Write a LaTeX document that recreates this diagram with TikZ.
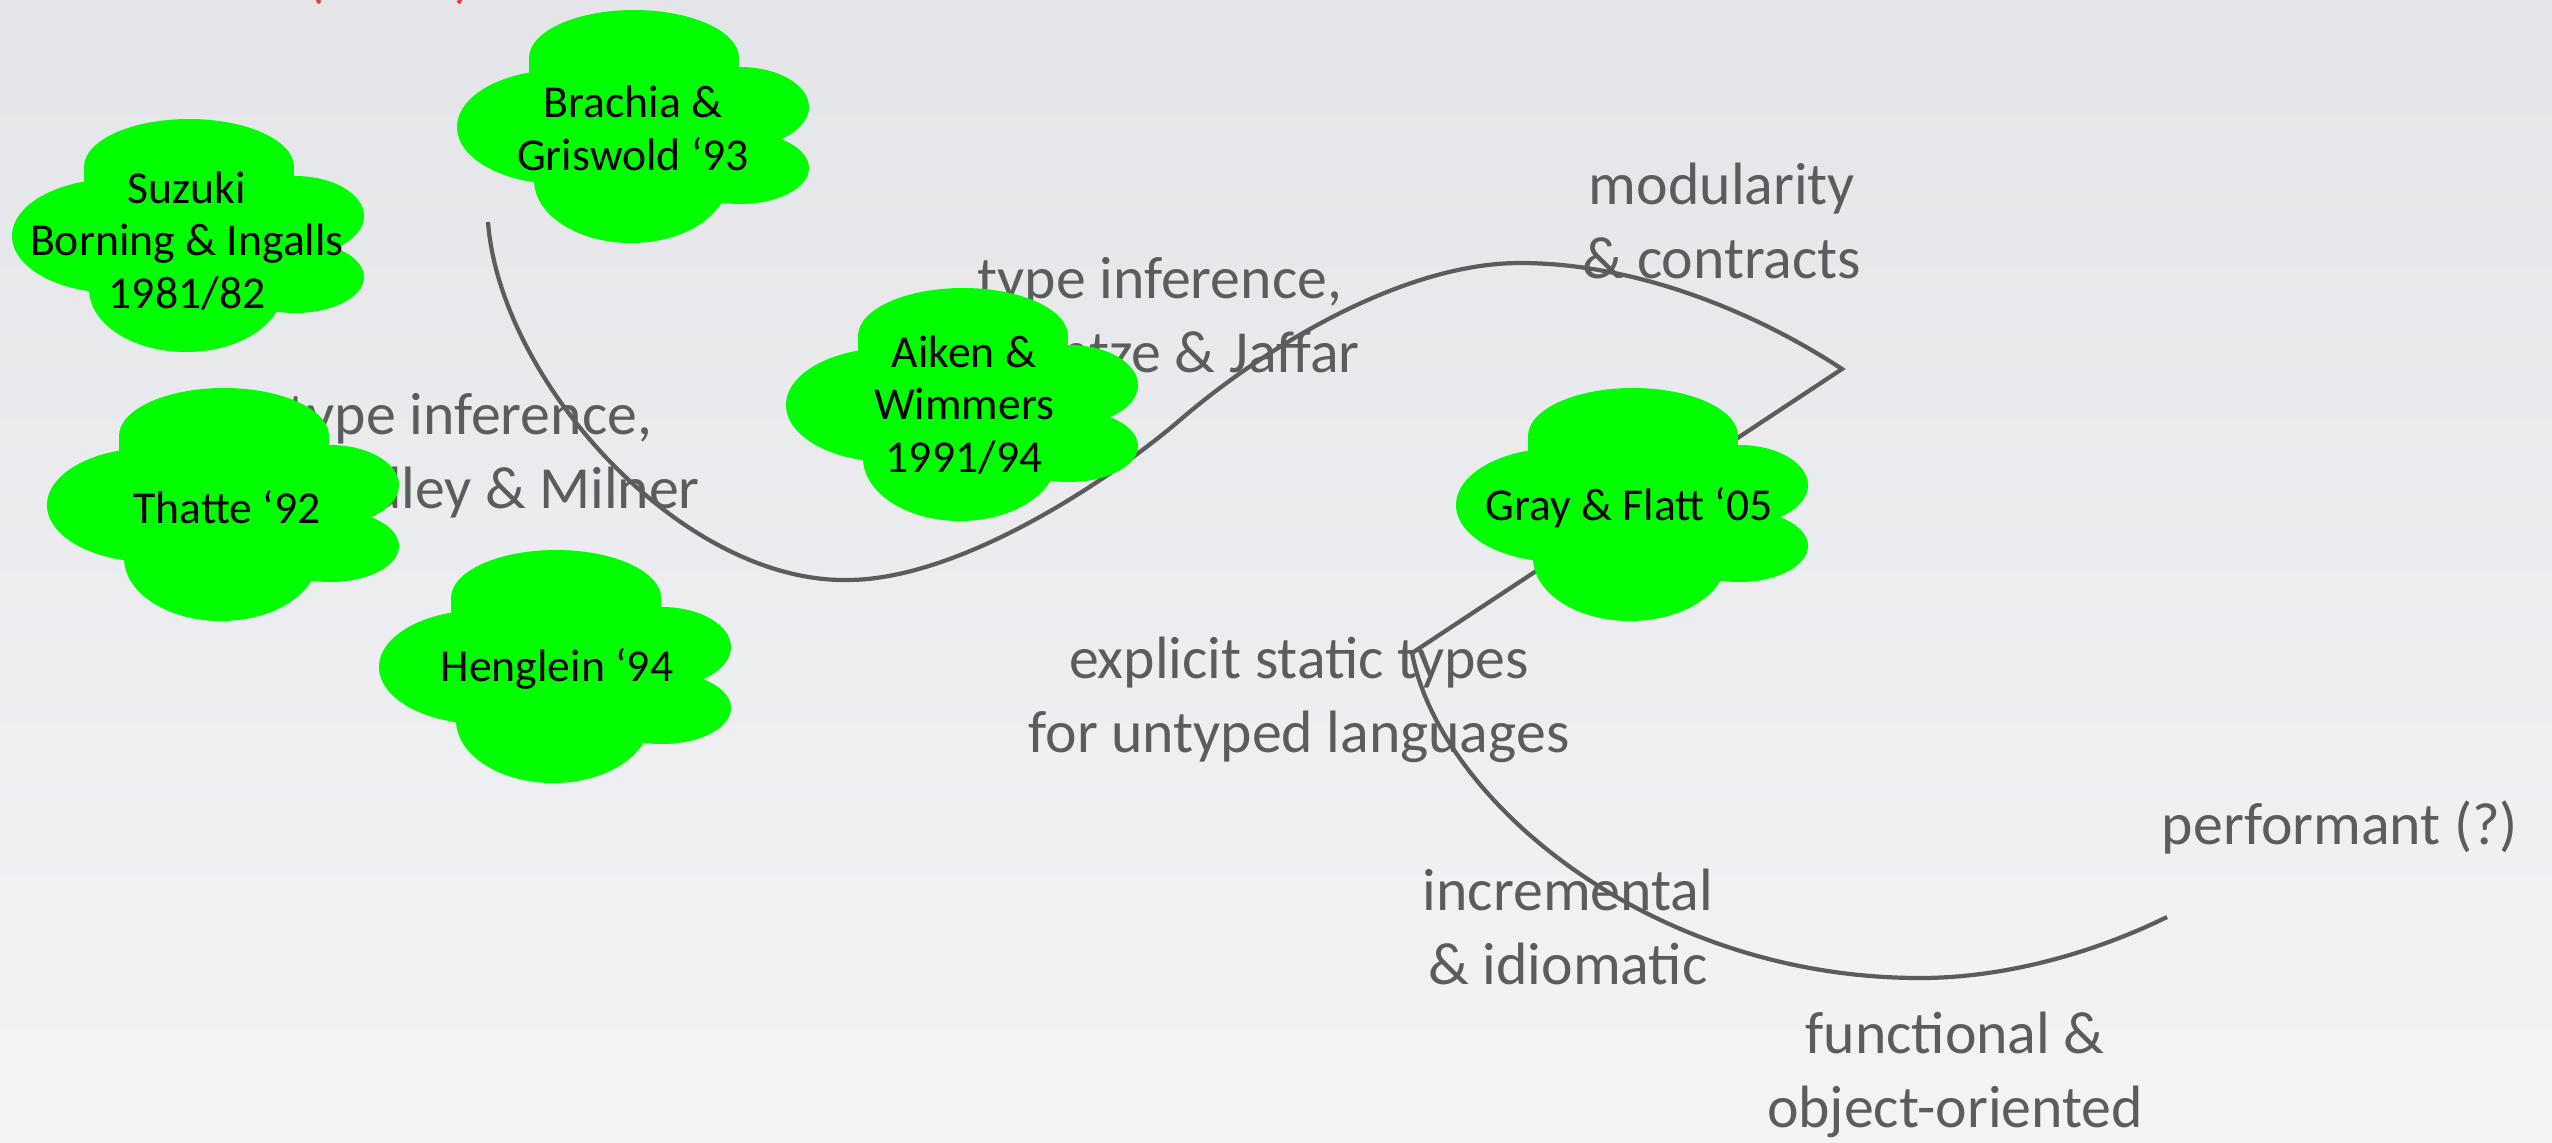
\documentclass[tikz,border=0pt]{standalone}
\usepackage{fontspec}
\setmainfont{Carlito}
\definecolor{slidetop}{RGB}{227,229,232}
\definecolor{slidebottom}{RGB}{243,244,246}
\definecolor{inkgray}{RGB}{92,92,92}
\definecolor{puffgreen}{RGB}{0,255,0}
\definecolor{notered}{RGB}{228,60,60}
\begin{document}
\begin{tikzpicture}[
   x=0.01cm,y=-0.01cm,
   lbl/.style={text=inkgray,align=center,inner sep=0pt,font=\fontsize{17}{21}\selectfont},
   puff/.style={align=center,inner sep=0pt,font=\fontsize{13}{15}\selectfont},
   track/.style={draw=inkgray,line width=1.2pt,line join=miter},
   blob/.pic={
     \fill[puffgreen] (-105,-68) rectangle (105,-20);
     \fill[puffgreen] (0,-68) ellipse [x radius=105,y radius=48]
       (-74,1) ellipse [x radius=103,y radius=57]
       (106,-19) ellipse [x radius=69,y radius=40]
       (106,42) ellipse [x radius=69,y radius=36]
       (-3,54) ellipse [x radius=97,y radius=63]
       (0,4) ellipse [x radius=120,y radius=80];
   }
 ]
  \useasboundingbox (0,0) rectangle (2552,1142);
  \shade[top color=slidetop,bottom color=slidebottom] (0,0) rectangle (2552,1142);
  \begin{scope}
    \clip (0,0) rectangle (2552,1142);
    \node[text=notered,anchor=base,font=\fontsize{17}{21}\selectfont] (draft) at (390,-4) {(\hspace{1.3cm})};
  \end{scope}

  \node[lbl] (modular) at (1722,221) {modularity\\\& contracts};
  \node[lbl,align=left,anchor=west] (heintze) at (977,315) {type inference,\\Heintze \& Jaffar};
  \node[lbl,align=left,anchor=west] (hindley) at (287,456) {type inference,\\Hindley \& Milner};
  \node[lbl] (explicit) at (1299,700) {explicit static types\\for untyped languages};
  \node[lbl] (incr) at (1568,927) {incremental\\\& idiomatic};
  \node[lbl,anchor=base] (perf) at (2340,844) {performant (?)};
  \node[lbl] (funct) at (1955,1075) {functional \&\\object-oriented};

  \draw[track] (488,222) .. controls (500,380) and (680,582) .. (847,580)
    .. controls (960,580) and (1110,480) .. (1180,420)
    .. controls (1260,351) and (1400,263) .. (1520,263)
    .. controls (1640,263) and (1760,315) .. (1842,369)
    -- (1412,653)
    .. controls (1440,800) and (1650,978) .. (1920,978)
    .. controls (2010,978) and (2100,950) .. (2167,917);

  \pic at (634,126) {blob};
  \node[puff] (brachia) at (633,128) {Brachia \&\\Griswold `93};
  \pic at (189,235) {blob};
  \node[puff] (suzuki) at (187,241) {Suzuki\\Borning \& Ingalls\\1981/82};
  \pic at (224,504) {blob};
  \node[puff] (thatte) at (227,507) {Thatte `92};
  \pic at (556,666) {blob};
  \node[puff] (henglein) at (557,669) {Henglein `94};
  \pic at (963,404) {blob};
  \node[puff] (aiken) at (964,405) {Aiken \&\\Wimmers\\1991/94};
  \pic at (1633,504) {blob};
  \node[puff] (gray) at (1629,508) {Gray \& Flatt `05};
\end{tikzpicture}
\end{document}
